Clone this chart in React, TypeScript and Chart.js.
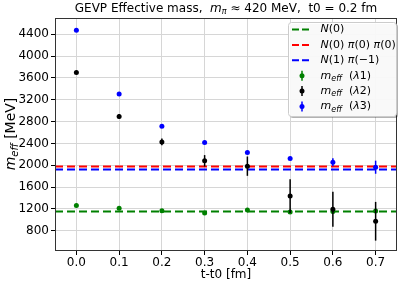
import React, { useEffect, useRef } from "react";
import { Chart, registerables } from "chart.js";
Chart.register(...registerables);

const tValues = [0.0, 0.1, 0.2, 0.3, 0.4, 0.5, 0.6, 0.7];
const lambda1 = [1260, 1210, 1168, 1124, 1179, 1143, 1150, 1160];
const lambda1Err = [15, 15, 15, 20, 15, 15, 15, 15];
const lambda2 = [3700, 2895, 2428, 2081, 1983, 1435, 1192, 973];
const lambda2Err = [20, 45, 60, 105, 177, 310, 320, 355];
const lambda3 = [4475, 3304, 2713, 2415, 2233, 2123, 2056, 1964];
const lambda3Err = [10, 10, 15, 15, 20, 20, 73, 120];
const levelN0 = 1150;
const levelN0PiPi = 1977;
const levelN1Pi = 1922;
const xTicks = [0.0, 0.1, 0.2, 0.3, 0.4, 0.5, 0.6, 0.7];
const yTicks = [800, 1200, 1600, 2000, 2400, 2800, 3200, 3600, 4000, 4400];
const xRange = [-0.05, 0.75];
const yRange = [428, 4699];

const FAMILY = "'DejaVu Sans'";
const GREEN = "#008000";
const RED = "#ff0000";
const BLUE = "#0000ff";
const BLACK = "#000000";

type Seg = { t: string; it?: boolean; sub?: boolean };

function drawRich(
  ctx: CanvasRenderingContext2D,
  segs: Seg[],
  x: number,
  y: number,
  size: number,
  align: "left" | "center"
) {
  const fontFor = (s: Seg) =>
    `${s.it ? "italic " : ""}${s.sub ? Math.round(size * 0.7) : size}px ${FAMILY}`;
  let total = 0;
  for (const s of segs) {
    ctx.font = fontFor(s);
    total += ctx.measureText(s.t).width;
  }
  let cx = align === "center" ? x - total / 2 : x;
  ctx.textBaseline = "middle";
  ctx.textAlign = "left";
  ctx.fillStyle = "#000";
  for (const s of segs) {
    ctx.font = fontFor(s);
    ctx.fillText(s.t, cx, s.sub ? y + size * 0.28 : y);
    cx += ctx.measureText(s.t).width;
  }
}

const pts = (vals: number[]) => vals.map((v, i) => ({ x: tValues[i], y: v }));
const hline = (v: number) => [
  { x: xRange[0], y: v },
  { x: xRange[1], y: v },
];

const errorBarPlugin = {
  id: "errorBars",
  beforeDatasetDraw(chart: any, args: any) {
    const ds = chart.data.datasets[args.index];
    if (!ds.errors) return;
    const ctx = chart.ctx;
    const xs = chart.scales.x;
    const ys = chart.scales.y;
    ctx.save();
    ctx.strokeStyle = ds.backgroundColor;
    ctx.lineWidth = 1.5;
    ds.data.forEach((p: any, i: number) => {
      const e = ds.errors[i];
      const px = xs.getPixelForValue(p.x);
      ctx.beginPath();
      ctx.moveTo(px, ys.getPixelForValue(p.y - e));
      ctx.lineTo(px, ys.getPixelForValue(p.y + e));
      ctx.stroke();
    });
    ctx.restore();
  },
};

const decorPlugin = {
  id: "decor",
  afterDatasetsDraw(chart: any) {
    const ctx = chart.ctx;
    const a = chart.chartArea;
    ctx.save();
    ctx.strokeStyle = "#333";
    ctx.lineWidth = 1;
    ctx.strokeRect(Math.round(a.left) + 0.5, Math.round(a.top) + 0.5, Math.round(a.right - a.left) - 1, Math.round(a.bottom - a.top) - 1);
    ctx.restore();
  },
  afterDraw(chart: any) {
    const ctx = chart.ctx;
    const a = chart.chartArea;
    const cx = (a.left + a.right) / 2;
    ctx.save();
    // title
    drawRich(
      ctx,
      [
        { t: "GEVP Effective mass,  " },
        { t: "m", it: true },
        { t: "π", it: true, sub: true },
        { t: " ≈ 420 MeV,  t0 = 0.2 fm" },
      ],
      cx,
      9,
      12,
      "center"
    );
    // x title
    drawRich(ctx, [{ t: "t-t0 [fm]" }], cx, 275, 12, "center");
    // y title
    ctx.save();
    ctx.translate(11, 134);
    ctx.rotate(-Math.PI / 2);
    drawRich(ctx, [{ t: "m", it: true }, { t: "eff", it: true, sub: true }, { t: " [MeV]" }], 0, 0, 14, "center");
    ctx.restore();

    // legend
    const lx = 288, ly = 22, lw = 108, lh = 94;
    const rr = (x: number, y: number, w: number, h: number, r: number) => {
      ctx.beginPath();
      ctx.moveTo(x + r, y);
      ctx.lineTo(x + w - r, y);
      ctx.arcTo(x + w, y, x + w, y + r, r);
      ctx.lineTo(x + w, y + h - r);
      ctx.arcTo(x + w, y + h, x + w - r, y + h, r);
      ctx.lineTo(x + r, y + h);
      ctx.arcTo(x, y + h, x, y + h - r, r);
      ctx.lineTo(x, y + r);
      ctx.arcTo(x, y, x + r, y, r);
      ctx.closePath();
    };
    rr(lx + 2, ly + 2, lw, lh, 3);
    ctx.fillStyle = "rgba(0,0,0,0.3)";
    ctx.fill();
    rr(lx + 0.5, ly + 0.5, lw, lh, 3);
    ctx.fillStyle = "rgba(255,255,255,0.92)";
    ctx.fill();
    ctx.strokeStyle = "#cccccc";
    ctx.lineWidth = 1;
    ctx.stroke();

    const entries: { kind: "line" | "err"; color: string; segs: Seg[] }[] = [
      { kind: "line", color: GREEN, segs: [{ t: "N", it: true }, { t: "(0)" }] },
      {
        kind: "line",
        color: RED,
        segs: [{ t: "N", it: true }, { t: "(0) " }, { t: "π", it: true }, { t: "(0) " }, { t: "π", it: true }, { t: "(0)" }],
      },
      { kind: "line", color: BLUE, segs: [{ t: "N", it: true }, { t: "(1) " }, { t: "π", it: true }, { t: "(−1)" }] },
      { kind: "err", color: GREEN, segs: [{ t: "m", it: true }, { t: "eff", it: true, sub: true }, { t: "  (" }, { t: "λ", it: true }, { t: "1)" }] },
      { kind: "err", color: BLACK, segs: [{ t: "m", it: true }, { t: "eff", it: true, sub: true }, { t: "  (" }, { t: "λ", it: true }, { t: "2)" }] },
      { kind: "err", color: BLUE, segs: [{ t: "m", it: true }, { t: "eff", it: true, sub: true }, { t: "  (" }, { t: "λ", it: true }, { t: "3)" }] },
    ];
    entries.forEach((en, i) => {
      const y = 29.5 + i * 15.4;
      if (en.kind === "line") {
        ctx.save();
        ctx.strokeStyle = en.color;
        ctx.lineWidth = 2;
        ctx.setLineDash([7, 3]);
        ctx.beginPath();
        ctx.moveTo(292, y);
        ctx.lineTo(312, y);
        ctx.stroke();
        ctx.restore();
      } else {
        ctx.save();
        ctx.strokeStyle = en.color;
        ctx.fillStyle = en.color;
        ctx.lineWidth = 1.5;
        ctx.beginPath();
        ctx.moveTo(302, y - 5);
        ctx.lineTo(302, y + 5);
        ctx.stroke();
        ctx.beginPath();
        ctx.arc(302, y, 2.5, 0, Math.PI * 2);
        ctx.fill();
        ctx.restore();
      }
      drawRich(ctx, en.segs, 320.5, y, 11, "left");
    });
    ctx.restore();
  },
};

export default function App() {
  const ref = useRef<HTMLCanvasElement | null>(null);
  useEffect(() => {
    document.body.style.margin = "0";
    if (!ref.current) return;
    const lineDs = (label: string, v: number, color: string) => ({
      type: "line" as const,
      label,
      data: hline(v),
      borderColor: color,
      backgroundColor: color,
      borderWidth: 2,
      borderDash: [8, 4],
      pointRadius: 0,
      fill: false,
      order: 10,
    });
    const scatDs = (label: string, vals: number[], errs: number[], color: string, order: number) => ({
      type: "scatter" as const,
      label,
      data: pts(vals),
      errors: errs,
      backgroundColor: color,
      borderColor: color,
      borderWidth: 0,
      pointRadius: 2.5,
      order,
    });
    const chart = new Chart(ref.current, {
      type: "scatter",
      data: {
        datasets: [
          lineDs("N(0)", levelN0, GREEN),
          lineDs("N(0) π(0) π(0)", levelN0PiPi, RED),
          lineDs("N(1) π(−1)", levelN1Pi, BLUE),
          scatDs("m_eff (λ1)", lambda1, lambda1Err, GREEN, 3),
          scatDs("m_eff (λ2)", lambda2, lambda2Err, BLACK, 2),
          scatDs("m_eff (λ3)", lambda3, lambda3Err, BLUE, 1),
        ] as any,
      },
      options: {
        responsive: false,
        animation: false,
        layout: { padding: { top: 18, right: 6, left: 0, bottom: 0 } },
        plugins: { legend: { display: false }, tooltip: { enabled: false }, title: { display: false } },
        scales: {
          x: {
            type: "linear",
            min: xRange[0],
            max: xRange[1],
            afterBuildTicks: (s: any) => {
              s.ticks = xTicks.map((v) => ({ value: v }));
            },
            afterFit: (s: any) => {
              s.height = 36;
            },
            ticks: {
              autoSkip: false,
              maxRotation: 0,
              padding: 1,
              color: "#000",
              font: { family: "DejaVu Sans", size: 12 },
              callback: (v: any) => Number(v).toFixed(1),
            },
            grid: { color: "#d6d6d6", lineWidth: 1, tickColor: "#000", tickLength: 4, drawTicks: true },
            border: { display: false },
          },
          y: {
            type: "linear",
            min: yRange[0],
            max: yRange[1],
            afterBuildTicks: (s: any) => {
              s.ticks = yTicks.map((v) => ({ value: v }));
            },
            afterFit: (s: any) => {
              s.width = 55;
            },
            ticks: {
              autoSkip: false,
              padding: 2,
              color: "#000",
              font: { family: "DejaVu Sans", size: 12 },
              callback: (v: any) => String(v),
            },
            grid: { color: "#d6d6d6", lineWidth: 1, tickColor: "#000", tickLength: 4, drawTicks: true },
            border: { display: false },
          },
        },
      },
      plugins: [errorBarPlugin, decorPlugin],
    });
    return () => chart.destroy();
  }, []);
  return (
    <div style={{ width: 403, height: 287 }}>
      <canvas ref={ref} width={403} height={287} style={{ display: "block", width: 403, height: 287 }} />
    </div>
  );
}
